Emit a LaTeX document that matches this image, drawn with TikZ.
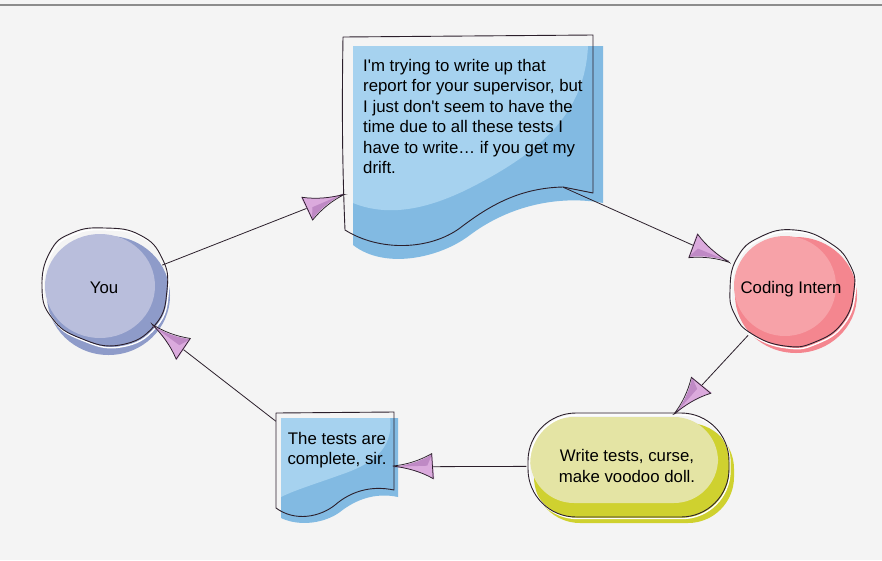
\documentclass[tikz,border=0pt]{standalone}
\usepackage{fontspec}
\setmainfont{Liberation Sans}[Ligatures=TeXOff]
\usetikzlibrary{shapes.geometric,decorations.markings}

\definecolor{bg}{HTML}{F4F4F4}
\definecolor{rule}{HTML}{8C8C8C}
\definecolor{ink}{HTML}{2B1F2B}
\definecolor{youlight}{HTML}{B9BEDC}
\definecolor{youdark}{HTML}{8E9BC9}
\definecolor{internlight}{HTML}{F7A2A8}
\definecolor{interndark}{HTML}{F4868F}
\definecolor{tasklight}{HTML}{E4E4A4}
\definecolor{taskdark}{HTML}{CFD12F}
\definecolor{doclight}{HTML}{A6D2EF}
\definecolor{docdark}{HTML}{82BAE2}
\definecolor{tiplight}{HTML}{DBAADD}
\definecolor{tipdark}{HTML}{BF89C5}

% hand-drawn dart used as arrowhead, tip at the origin, pointing along +x
\newcommand\drawdart{%
  \fill[tiplight] (0,0) .. controls (-13,-1.5) and (-27,-5) .. (-40,-12.5)
    -- (-38,12.5) .. controls (-26,5) and (-13,1.5) .. cycle;
  \fill[tipdark] (0,0) .. controls (-13,1.5) and (-26,5) .. (-38,12.5)
    -- (-33,1) -- cycle;
  \draw[ink, line width=0.75pt, line join=miter]
    (1.5,0.8) .. controls (-12,-1) and (-26,-4.5) .. (-39,-12)
    -- (-37.5,13) .. controls (-25,6) and (-12,2) .. cycle;
}

\begin{document}
\begin{tikzpicture}[x=1pt, y=-1pt,
  txt/.style={font=\fontsize{16.8}{20.5}\selectfont, text=black, inner sep=0pt},
  hub/.style={ellipse, txt},
  outline/.style={draw=ink, line width=0.9pt, line join=round},
  halo/.style={draw=white, line width=1.4pt},
  conn/.style={draw=ink, line width=0.8pt,
    postaction={decorate, decoration={markings,
      mark=at position 1 with {\drawdart}}}},
]
\useasboundingbox (0,0) rectangle (882,560);
\fill[bg] (0,0) rectangle (882,560);
\draw[rule, line width=1.5pt] (0,5) -- (882,5);

% ---- "You" blob
\fill[youdark] (108.5,295.5) ellipse [x radius=61.5, y radius=59.5];
\fill[youlight] (100,286) ellipse [x radius=55, y radius=52];
\draw[halo, shift={(1.3,1.8)}] plot[smooth cycle, tension=0.8] coordinates
  {(42,288) (50,252) (72,233) (105,228) (140,235) (162,258) (167,290) (155,325) (120,345) (80,338) (52,318)};
\draw[outline] plot[smooth cycle, tension=0.8] coordinates
  {(42,288) (50,252) (72,233) (105,228) (140,235) (162,258) (167,290) (155,325) (120,345) (80,338) (52,318)};

% ---- "Coding Intern" blob
\fill[interndark] (796,295) ellipse [x radius=61, y radius=58];
\fill[internlight] (785,286) ellipse [x radius=51, y radius=50];
\draw[halo, shift={(1.3,1.8)}] plot[smooth cycle, tension=0.8] coordinates
  {(730,290) (737,258) (760,237) (795,230) (830,243) (850,265) (854,290) (843,322) (815,342) (785,346) (752,334) (735,315)};
\draw[outline] plot[smooth cycle, tension=0.8] coordinates
  {(730,290) (737,258) (760,237) (795,230) (830,243) (850,265) (854,290) (843,322) (815,342) (785,346) (752,334) (735,315)};

% ---- task pill
\fill[taskdark, rounded corners=46pt] (534,423) rectangle (734,523);
\fill[tasklight, rounded corners=44pt] (530,417) rectangle (718,503);
\draw[halo, rounded corners=48pt] (529.5,415) rectangle (730,518.5);
\draw[outline, rounded corners=48pt] (528,413) rectangle (729,517);

% ---- report sheet
\fill[docdark] (353,46) -- (603,46) -- (603,203)
  .. controls (560,195) and (510,205) .. (470,235)
  .. controls (440,258) and (385,270) .. (353,245) -- cycle;
\fill[doclight] (353,46) -- (588,46)
  .. controls (585,110) and (545,150) .. (470,188)
  .. controls (430,208) and (390,218) .. (353,203) -- cycle;
\draw[outline] (343,37) -- (593,35) -- (593,193) -- (563,187)
  .. controls (520,188) and (490,205) .. (460,228)
  .. controls (430,250) and (380,252) .. (345,230)
  .. controls (342,160) and (342,100) .. cycle;

% ---- reply sheet
\fill[docdark] (281,418) -- (398,418) -- (398,497)
  .. controls (375,492) and (355,500) .. (340,512)
  .. controls (325,523) and (300,527) .. (281,518) -- cycle;
\fill[doclight] (281,418) -- (390,418)
  .. controls (394,450) and (370,465) .. (340,475)
  .. controls (315,484) and (295,490) .. (281,497) -- cycle;
\draw[outline] (276,413) -- (394,412) -- (394,490)
  .. controls (370,485) and (350,492) .. (335,505)
  .. controls (320,517) and (295,522) .. (276,508) -- cycle;

% ---- nodes
\node[hub, minimum width=126pt, minimum height=118pt] (you) at (104,288) {You};
\node[hub, minimum width=124pt, minimum height=115pt] (intern) at (791,289) {Coding Intern};
\node[txt, rectangle, rounded corners=46pt, minimum width=201pt, minimum height=104pt,
  align=center] (task) at (627,466) {Write tests, curse,\\make voodoo doll.};
\node[rectangle, minimum width=118pt, minimum height=104pt, inner sep=0pt] (reply) at (335,467) {};
\node[txt, align=center, anchor=north] (replytext) at (337,432) {The tests are\\complete, sir.};
\node[rectangle, minimum width=250pt, minimum height=220pt, inner sep=0pt] (report) at (468,145) {};
\node[txt, align=left, anchor=north west] (reporttext) at (363,59)
  {I'm trying to write up that\\report for your supervisor, but\\I just don't seem to have the\\time due to all these tests I\\have to write… if you get my\\drift.};

% ---- connectors
\draw[conn] (you) -- (report);
\draw[conn, shorten <=-33pt] (report) -- (intern);
\draw[conn] (intern) -- (task);
\draw[conn] (task) -- (reply);
\draw[conn] (reply) -- (you);
\end{tikzpicture}
\end{document}
